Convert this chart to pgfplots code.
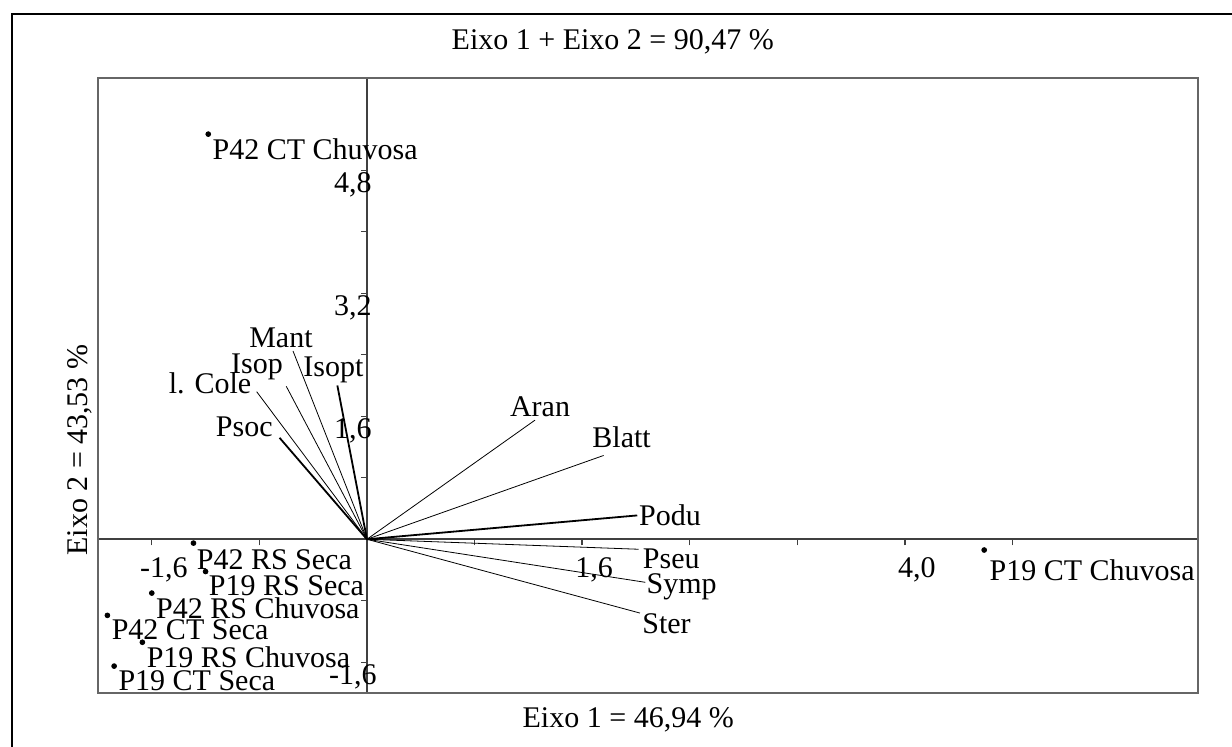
\documentclass[border=0pt]{standalone}
\usepackage{fontspec}
\setmainfont{Liberation Serif}
\usepackage{pgfplots}
\pgfplotsset{compat=1.18}

% sample scores: x y label, plus label shift in pt
\pgfplotstableread{
x     y     dx   dy   label
-1.18 5.27  2.0  -2.0 {P42 CT Chuvosa}
4.59  -0.14 2.5  -4.5 {P19 CT Chuvosa}
-1.29 -0.05 1.5  -3.0 {P42 RS Seca}
-1.20 -0.42 1.5  -2.0 {P19 RS Seca}
-1.60 -0.70 2.0  -2.0 {P42 RS Chuvosa}
-1.93 -0.99 2.0  -2.0 {P42 CT Seca}
-1.67 -1.34 2.0  -2.0 {P19 RS Chuvosa}
-1.88 -1.65 2.0  -2.0 {P19 CT Seca}
}\scores

\begin{document}
\fontsize{15}{18}\selectfont
\begin{tikzpicture}
\path[use as bounding box] (-49pt,-26.5pt) rectangle (567pt,346.5pt);
\draw[line width=0.8pt] (-43pt,-30pt) -- (-43pt,339.5pt) -- (570pt,339.5pt);
\begin{axis}[
  at={(0,0)}, anchor=south west,
  scale only axis, width=550pt, height=307.5pt,
  xmin=-2, xmax=6.18, ymin=-2, ymax=6,
  axis lines=middle,
  axis line style={-, black!75, line width=0.9pt},
  clip=false,
  cycle list={{black, solid, line width=0.9pt, mark=none}},
  xtick={-1.6,-0.8,0.8,1.6,2.4,3.2,4.0,4.8},
  xticklabels={{-1,6},{},{},{1,6},{},{},{4,0},{}},
  ytick={-1.6,-0.8,0.8,1.6,2.4,3.2,4.0,4.8},
  yticklabels={{-1,6},{},{},{1,6},{},{3,2},{},{4,8}},
  tick align=outside,
  major tick length=3pt,
  tick style={black!75, line width=0.7pt},
  xticklabel style={anchor=north, inner sep=0pt, xshift=6pt, yshift=-6pt},
  yticklabel style={anchor=north, inner sep=0pt, xshift=-4pt, yshift=-1pt},
  after end axis/.code={
    \draw[black!60, line width=1.2pt] (rel axis cs:0,0) rectangle (rel axis cs:1,1);
    \node at (rel axis cs:0.468,1.0585) {Eixo 1 + Eixo 2 = 90,47 \%};
    \node at (rel axis cs:0.482,-0.044) {Eixo 1 = 46,94 \%};
    \node[rotate=90] at (rel axis cs:-0.0164,0.395) {Eixo 2 = 43,53 \%};
  },
]
% variable vectors
\addplot coordinates {(0,0) (1.25,1.55)} node[pos=1, anchor=south, inner sep=0pt, xshift=2.5pt, yshift=1.5pt] {Aran};
\addplot coordinates {(0,0) (1.76,1.09)} node[pos=1, anchor=south, inner sep=0pt, xshift=9pt, yshift=3.5pt] {Blatt};
\addplot coordinates {(0,0) (2.01,0.31)} node[pos=1, anchor=west, inner sep=0.5pt] {Podu};
\addplot coordinates {(0,0) (2.02,-0.13)} node[pos=1, anchor=north west, inner sep=0pt, xshift=2pt, yshift=0.5pt] {Pseu};
\addplot coordinates {(0,0) (2.07,-0.56)} node[pos=1, anchor=west, inner sep=0pt, xshift=0.5pt, yshift=-2pt] {Symp};
\addplot coordinates {(0,0) (2.03,-0.96)} node[pos=1, anchor=north west, inner sep=0pt, xshift=1pt] {Ster};
\addplot coordinates {(0,0) (-0.22,2.00)} node[pos=1, anchor=south, inner sep=0pt, xshift=-2pt, yshift=1pt] {Isopt};
\addplot coordinates {(0,0) (-0.55,2.45)} node[pos=1, anchor=south, inner sep=0pt, xshift=-6pt, yshift=1.5pt] {Mant};
\addplot coordinates {(0,0) (-0.60,1.99)} node[pos=1, anchor=south east, inner sep=0pt, xshift=-1.5pt, yshift=3pt] {Isop};
\addplot coordinates {(0,0) (-0.82,1.92)} node[pos=1, anchor=base east, inner sep=0pt, xshift=-2.5pt, yshift=-1pt] {l. Cole};
\addplot coordinates {(0,0) (-0.65,1.32)} node[pos=1, anchor=south east, inner sep=0pt, xshift=-3pt] {Psoc};
% sample points
\addplot[only marks, mark=*, mark size=1.2pt, black,
  nodes near coords, point meta=explicit symbolic,
  visualization depends on={\thisrow{dx}\as\dx},
  visualization depends on={\thisrow{dy}\as\dy},
  every node near coord/.append style={anchor=north west, inner sep=0pt,
    xshift=\dx pt, yshift=\dy pt, font=\fontsize{15}{18}\selectfont}]
  table[x=x, y=y, meta=label] {\scores};
\end{axis}
\end{tikzpicture}
\end{document}
